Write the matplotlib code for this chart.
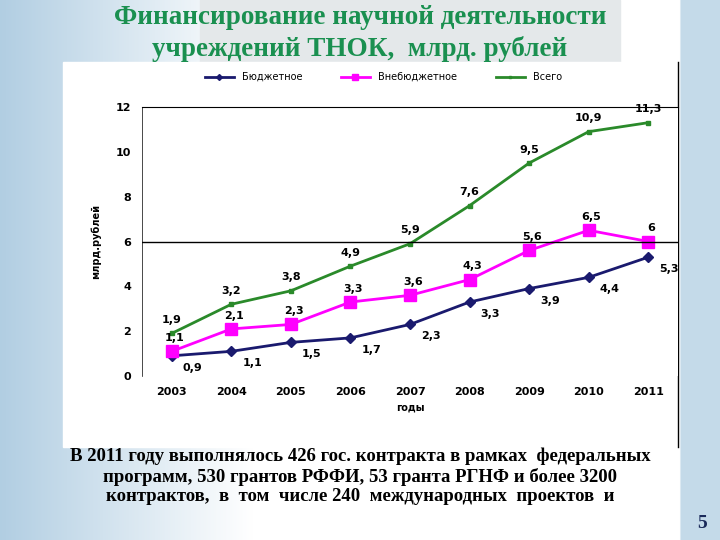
import matplotlib.pyplot as plt
import numpy as np

years = ['2003', '2004', '2005', '2006', '2007', '2008', '2009', '2010', '2011']
budget = [0.9, 1.1, 1.5, 1.7, 2.3, 3.3, 3.9, 4.4, 5.3]
extra = [1.1, 2.1, 2.3, 3.3, 3.6, 4.3, 5.6, 6.5, 6.0]
total = [1.9, 3.2, 3.8, 4.9, 5.9, 7.6, 9.5, 10.9, 11.3]

def fmt(v):
    return ('%g' % v).replace('.', ',')

fig = plt.figure(figsize=(7.2, 5.4), dpi=100)

# slide background
bg = fig.add_axes([0, 0, 1, 1], zorder=-10)
xx = np.linspace(0, 1, 400)
grad = np.ones((10, 400, 3))
left = np.clip(1 - xx / 0.35, 0, 1)
right = (xx > 0.945).astype(float) * 0.6
mix = np.maximum(left * 0.8, right)
base = np.array([0.62, 0.76, 0.86])
grad[:, :, :] = 1 - mix[None, :, None] * (1 - base[None, None, :])
bg.imshow(grad, aspect='auto', extent=[0, 1, 0, 1])
bg.add_patch(plt.Rectangle((200 / 720, 1 - 62 / 540), 420 / 720, 62 / 540, color='#e4e8ea'))
bg.add_patch(plt.Rectangle((63 / 720, 1 - 447 / 540), 615 / 720, 385 / 540, color='white'))
bg.axvline(678 / 720, ymin=1 - 447 / 540, ymax=1 - 62 / 540, color='black', lw=1)
bg.set_xlim(0, 1); bg.set_ylim(0, 1); bg.axis('off')

fig.text(0.5, 0.968, 'Финансирование научной деятельности', ha='center', va='center',
         fontsize=19.5, fontweight='bold', color='#1a9050', family='Liberation Serif')
fig.text(0.5, 0.91, 'учреждений ТНОК,  млрд. рублей', ha='center', va='center',
         fontsize=19.5, fontweight='bold', color='#1a9050', family='Liberation Serif')

ax = fig.add_axes([142 / 720, 1 - 376 / 540, 536 / 720, 269 / 540])
x = np.arange(len(years))
ax.plot(x, budget, color='#1a1a6e', marker='D', markersize=5, lw=2, label='Бюджетное')
ax.plot(x, extra, color='#ff00ff', marker='s', markersize=8, lw=2, label='Внебюджетное')
ax.plot(x, total, color='#2a8a2a', marker='s', markersize=3, lw=2, label='Всего')
ax.axhline(6, color='black', lw=1)

for i in range(len(x)):
    ax.annotate(fmt(total[i]), (x[i], total[i]), xytext=(0, 6), textcoords='offset points',
                ha='center', va='bottom', fontsize=8, fontweight='bold')
    ax.annotate(fmt(extra[i]), (x[i], extra[i]), xytext=(2, 6), textcoords='offset points',
                ha='center', va='bottom', fontsize=8, fontweight='bold')
    ax.annotate(fmt(budget[i]), (x[i], budget[i]), xytext=(8, -5), textcoords='offset points',
                ha='left', va='top', fontsize=8, fontweight='bold')

ax.set_xlim(-0.5, len(x) - 0.5)
ax.set_ylim(0, 12)
ax.set_yticks(range(0, 13, 2))
ax.set_xticks(x)
ax.set_xticklabels(years, fontweight='bold')
ax.tick_params(axis='both', length=0, labelsize=8, pad=8)
for t in ax.get_yticklabels():
    t.set_fontweight('bold')
ax.spines['right'].set_visible(False)
ax.spines['bottom'].set_visible(False)
ax.spines['left'].set_linewidth(0.5)
ax.set_xlabel('годы', fontsize=7, fontweight='bold')
ax.set_ylabel('млрд.рублей', fontsize=7, fontweight='bold', labelpad=10)
ax.set_facecolor('white')
ax.legend(loc='lower center', bbox_to_anchor=(0.45, 1.06), ncol=3, frameon=False,
          fontsize=7, handlelength=3, columnspacing=4, markerscale=0.6)

fig.text(0.5, 0.118, 'В 2011 году выполнялось 426 гос. контракта в рамках  федеральных\n'
         'программ, 530 грантов РФФИ, 53 гранта РГНФ и более 3200\n'
         'контрактов,  в  том  числе 240  международных  проектов  и',
         ha='center', va='center', fontsize=13.5, fontweight='bold',
         family='Liberation Serif', linespacing=1.2)
fig.text(0.975, 0.015, '5', ha='center', va='bottom', fontsize=14, fontweight='bold',
         family='Liberation Serif', color='#1a2a5a')

fig.savefig('out.png', dpi=100)
